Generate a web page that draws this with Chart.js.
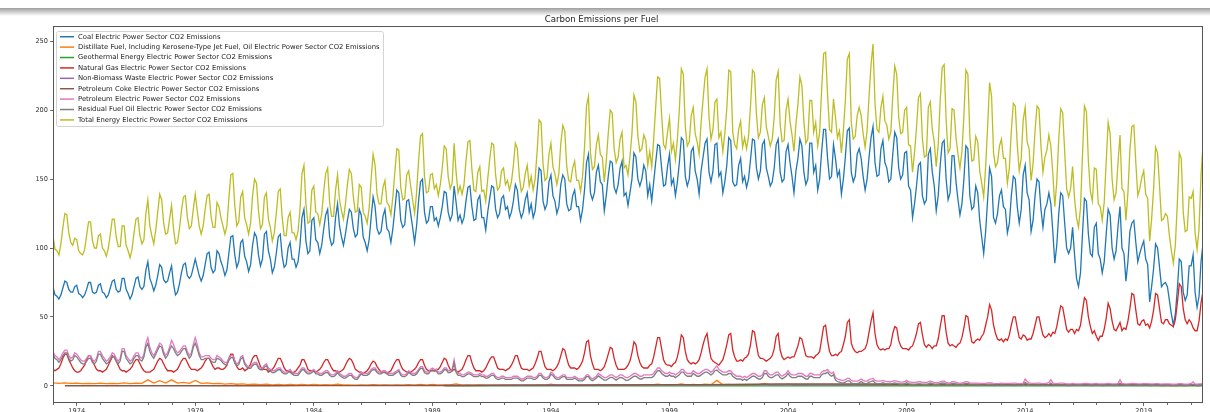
<!DOCTYPE html>
<html>
<head>
<meta charset="utf-8">
<script src="https://cdn.jsdelivr.net/npm/chart.js@4.4.0/dist/chart.umd.min.js"></script>
<style>
  html, body { margin: 0; padding: 0; background: #fff; overflow: hidden; }
  #wrap { position: relative; width: 1210px; height: 412px; }
  #shade { position: absolute; left: 0; top: 8px; width: 1210px; height: 8px;
           background: linear-gradient(#9e9e9e, rgba(255,255,255,0)); }
  canvas { display: block; }
</style>
</head>
<body>
<div id="wrap">
  <canvas id="chart" width="1210" height="412"></canvas>
  <div id="shade"></div>
</div>
<script>
// monthly series start at Jan 1973, last value is Jul 2021
const startYear = 1973;
const tickYears = [1974, 1979, 1984, 1989, 1994, 1999, 2004, 2009, 2014, 2019];
const yTicks = [0, 50, 100, 150, 200, 250];

const seriesNames = [
  'Coal Electric Power Sector CO2 Emissions',
  'Distillate Fuel, Including Kerosene-Type Jet Fuel, Oil Electric Power Sector CO2 Emissions',
  'Geothermal Energy Electric Power Sector CO2 Emissions',
  'Natural Gas Electric Power Sector CO2 Emissions',
  'Non-Biomass Waste Electric Power Sector CO2 Emissions',
  'Petroleum Coke Electric Power Sector CO2 Emissions',
  'Petroleum Electric Power Sector CO2 Emissions',
  'Residual Fuel Oil Electric Power Sector CO2 Emissions',
  'Total Energy Electric Power Sector CO2 Emissions'
];
const seriesColors = ['#1f77b4', '#ff7f0e', '#2ca02c', '#d62728', '#9467bd',
                      '#8c564b', '#e377c2', '#7f7f7f', '#bcbd22'];

const coal = [
  72, 66, 65, 63, 66, 71, 76, 75, 70, 68, 68, 72,
  73, 67, 66, 64, 66, 70, 75, 75, 68, 67, 68, 73,
  74, 68, 67, 64, 66, 71, 76, 77, 70, 68, 69, 78,
  78, 70, 67, 63, 66, 72, 78, 79, 72, 70, 72, 84,
  90, 78, 74, 69, 73, 80, 88, 86, 77, 75, 76, 82,
  87, 74, 66, 68, 74, 82, 88, 89, 80, 78, 80, 86,
  92, 86, 80, 76, 80, 88, 96, 97, 86, 82, 84, 98,
  96, 90, 86, 80, 84, 96, 108, 109, 95, 86, 90, 104,
  106, 94, 90, 83, 88, 102, 111, 108, 95, 87, 92, 110,
  112, 98, 92, 82, 86, 96, 108, 110, 94, 86, 88, 100,
  104, 92, 92, 86, 90, 102, 122, 128, 105, 96, 98, 120,
  122, 106, 104, 96, 102, 114, 124, 128, 108, 102, 104, 122,
  132, 116, 108, 102, 110, 120, 128, 126, 114, 108, 110, 128,
  124, 108, 104, 98, 106, 122, 137, 130, 114, 110, 112, 123,
  128, 114, 112, 104, 114, 128, 142, 140, 120, 115, 117, 134,
  135, 125, 115, 104, 116, 134, 148, 150, 126, 118, 120, 130,
  130, 120, 122, 116, 122, 130, 141, 140, 126, 120, 124, 145,
  133, 120, 124, 118, 122, 134, 144, 145, 130, 120, 121, 135,
  138, 122, 122, 113, 126, 136, 145, 144, 128, 122, 125, 136,
  138, 128, 130, 122, 126, 134, 146, 142, 128, 122, 126, 135,
  140, 126, 132, 122, 127, 142, 158, 156, 134, 128, 132, 148,
  153, 138, 134, 125, 130, 146, 153, 150, 132, 127, 128, 138,
  142, 130, 130, 120, 128, 142, 162, 168, 140, 135, 140, 155,
  160, 148, 146, 127, 138, 152, 163, 162, 144, 140, 146, 158,
  163, 138, 140, 131, 140, 150, 169, 166, 150, 145, 150, 160,
  156, 138, 146, 134, 148, 162, 175, 174, 158, 145, 146, 159,
  168, 146, 150, 138, 148, 162, 180, 178, 152, 145, 150, 170,
  173, 156, 150, 139, 156, 166, 176, 179, 155, 148, 156, 175,
  176, 152, 155, 140, 148, 160, 180, 178, 148, 145, 146, 160,
  165, 148, 152, 144, 150, 164, 179, 178, 158, 150, 156, 175,
  178, 158, 152, 145, 148, 158, 175, 179, 155, 148, 150, 170,
  175, 162, 152, 140, 156, 165, 179, 174, 155, 146, 150, 176,
  176, 155, 160, 142, 150, 170, 186, 186, 165, 150, 152, 175,
  165, 152, 156, 139, 150, 166, 185, 187, 155, 148, 152, 168,
  172, 165, 152, 142, 150, 166, 180, 188, 162, 152, 153, 172,
  178, 162, 158, 148, 150, 168, 184, 180, 158, 150, 153, 169,
  170, 145, 142, 122, 132, 145, 160, 162, 138, 132, 135, 168,
  172, 155, 145, 127, 138, 160, 176, 178, 150, 135, 140, 167,
  167, 148, 135, 124, 132, 150, 174, 172, 138, 128, 130, 145,
  140, 120, 108, 96, 112, 135, 158, 152, 122, 118, 125, 138,
  142, 130, 128, 111, 118, 138, 152, 150, 130, 118, 128, 153,
  160, 140, 135, 112, 120, 138, 150, 148, 128, 115, 128, 132,
  140, 132, 112, 89, 102, 125, 140, 138, 118, 100, 96, 100,
  115, 95, 78, 72, 82, 110, 136, 134, 110, 96, 94, 115,
  118, 96, 92, 82, 90, 110, 128, 124, 100, 92, 98, 116,
  130, 100, 96, 76, 90, 112, 118, 120, 104, 90, 96, 101,
  105, 92, 88, 61, 72, 85, 103, 100, 86, 72, 74, 75,
  72, 62, 52, 44, 52, 70, 92, 90, 68, 62, 66, 87,
  87, 95, 68, 57, 65, 90, 103
];

const naturalGas = [
  12, 11, 12, 13, 16, 20, 23, 23, 19, 16, 13, 11,
  10, 10, 11, 13, 15, 19, 22, 22, 18, 15, 12, 11,
  11, 10, 11, 12, 15, 18, 21, 21, 18, 15, 12, 11,
  11, 10, 11, 12, 14, 17, 19, 19, 16, 13, 11, 10,
  10, 10, 11, 12, 15, 18, 20, 19, 16, 13, 11, 11,
  11, 10, 11, 12, 15, 18, 20, 20, 17, 14, 12, 12,
  12, 11, 12, 13, 15, 18, 20, 20, 17, 14, 12, 13,
  13, 12, 12, 13, 15, 20, 23, 23, 18, 14, 12, 12,
  13, 11, 12, 13, 16, 20, 22, 22, 18, 14, 12, 12,
  12, 10, 11, 12, 14, 17, 20, 20, 17, 13, 11, 11,
  10, 9, 10, 11, 13, 15, 19, 19, 16, 12, 11, 11,
  11, 10, 11, 12, 14, 17, 19, 19, 16, 13, 11, 11,
  10, 10, 11, 12, 15, 18, 20, 19, 16, 12, 11, 10,
  10, 9, 10, 11, 13, 16, 18, 17, 14, 12, 10, 10,
  10, 9, 10, 11, 14, 17, 19, 19, 15, 12, 11, 10,
  10, 10, 11, 12, 14, 17, 19, 19, 15, 12, 11, 11,
  11, 11, 12, 12, 14, 17, 20, 19, 15, 12, 11, 12,
  11, 10, 11, 12, 15, 19, 22, 22, 17, 13, 11, 11,
  11, 10, 11, 13, 16, 19, 21, 21, 17, 13, 12, 12,
  12, 11, 12, 13, 15, 18, 22, 22, 17, 13, 12, 12,
  12, 11, 12, 13, 16, 20, 25, 25, 19, 14, 12, 12,
  12, 11, 12, 14, 17, 22, 27, 26, 20, 15, 13, 13,
  13, 12, 13, 15, 18, 24, 32, 33, 22, 16, 12, 12,
  12, 11, 12, 14, 18, 23, 28, 27, 20, 15, 12, 12,
  12, 12, 13, 15, 18, 24, 32, 30, 22, 17, 14, 13,
  13, 13, 15, 16, 21, 28, 35, 35, 27, 19, 16, 15,
  15, 14, 16, 17, 21, 28, 37, 35, 25, 19, 17, 16,
  17, 16, 17, 19, 24, 30, 35, 38, 28, 20, 18, 17,
  16, 15, 17, 19, 24, 30, 37, 38, 26, 21, 18, 18,
  19, 18, 20, 21, 23, 30, 40, 39, 30, 22, 20, 20,
  19, 18, 19, 20, 22, 27, 36, 38, 26, 21, 19, 20,
  21, 20, 21, 21, 25, 29, 35, 34, 28, 22, 21, 21,
  21, 20, 22, 23, 25, 34, 43, 44, 33, 25, 22, 22,
  23, 22, 24, 25, 30, 36, 46, 48, 31, 27, 25, 24,
  25, 25, 26, 27, 31, 39, 47, 53, 38, 30, 27, 26,
  27, 26, 27, 27, 30, 38, 43, 42, 33, 29, 27, 27,
  27, 26, 28, 29, 33, 38, 45, 46, 37, 30, 28, 30,
  29, 27, 29, 29, 34, 43, 51, 51, 39, 31, 29, 30,
  29, 28, 30, 31, 35, 42, 51, 50, 40, 32, 31, 33,
  34, 33, 36, 38, 44, 50, 59, 55, 44, 38, 34, 33,
  34, 32, 34, 33, 37, 44, 50, 50, 42, 35, 34, 37,
  36, 33, 34, 34, 38, 44, 50, 50, 43, 37, 35, 36,
  38, 36, 39, 38, 43, 51, 58, 57, 49, 41, 39, 41,
  41, 38, 41, 40, 44, 54, 64, 62, 50, 43, 38, 40,
  36, 33, 36, 36, 41, 49, 60, 56, 47, 41, 40, 43,
  46, 40, 42, 41, 47, 56, 67, 66, 55, 45, 44, 47,
  48, 44, 45, 42, 47, 55, 67, 66, 56, 46, 45, 48,
  48, 45, 44, 43, 48, 60, 74, 72, 56, 48, 45, 48,
  46, 42, 40, 40, 47, 60, 69
];

const petroleum = [
  25, 22, 21, 19, 21, 24, 26, 26, 22, 20, 21, 24,
  23, 21, 19, 18, 18, 20, 22, 22, 19, 18, 20, 25,
  25, 22, 20, 18, 19, 21, 24, 23, 20, 18, 20, 27,
  27, 22, 20, 18, 19, 22, 24, 24, 21, 20, 23, 31,
  35, 28, 24, 22, 25, 28, 31, 30, 25, 22, 24, 28,
  33, 30, 26, 24, 25, 27, 29, 29, 25, 22, 24, 30,
  35, 30, 24, 21, 21, 22, 22, 22, 20, 19, 19, 22,
  21, 20, 18, 17, 17, 20, 22, 22, 18, 16, 17, 21,
  22, 17, 15, 14, 14, 16, 17, 17, 14, 13, 13, 15,
  16, 13, 12, 11, 11, 12, 13, 13, 11, 10, 10, 11,
  12, 10, 9, 9, 9, 11, 13, 13, 11, 10, 10, 11,
  12, 10, 10, 9, 9, 10, 11, 11, 9, 8, 8, 9,
  11, 9, 8, 7, 7, 8, 9, 9, 7, 6, 6, 8,
  10, 9, 9, 9, 10, 12, 13, 13, 11, 10, 10, 11,
  11, 10, 9, 9, 9, 10, 11, 12, 9, 8, 8, 9,
  11, 10, 9, 9, 10, 12, 14, 14, 11, 10, 10, 12,
  13, 12, 12, 10, 10, 11, 13, 13, 11, 11, 12, 19,
  11, 9, 9, 8, 8, 9, 10, 10, 9, 8, 8, 8,
  9, 8, 8, 7, 7, 8, 9, 9, 7, 6, 6, 7,
  7, 6, 6, 6, 6, 7, 7, 7, 6, 5, 5, 6,
  7, 7, 7, 6, 6, 7, 9, 9, 7, 6, 6, 7,
  10, 9, 7, 6, 6, 7, 8, 8, 6, 6, 6, 6,
  7, 6, 5, 5, 5, 6, 8, 8, 6, 5, 6, 7,
  9, 8, 7, 6, 6, 7, 8, 8, 7, 6, 7, 8,
  8, 7, 6, 6, 7, 8, 9, 9, 8, 7, 7, 8,
  8, 8, 8, 8, 9, 11, 13, 13, 11, 10, 9, 9,
  10, 9, 9, 8, 9, 10, 12, 12, 10, 9, 9, 9,
  11, 10, 9, 9, 10, 11, 12, 12, 11, 10, 11, 13,
  14.5, 12, 11, 10, 10, 10, 11, 11, 9, 8, 7, 7,
  7, 6, 7, 6, 7, 8, 9, 9, 8, 7, 7, 8,
  11, 11, 9, 8, 8, 9, 10, 10, 8, 7, 8, 9,
  11, 9, 8, 8, 8, 9, 9, 9, 8, 7, 7, 9,
  9, 8, 8, 8, 8, 10, 11, 11, 12, 10, 9, 10,
  6, 5, 4.5, 4, 4, 4.5, 5.5, 5.5, 4, 3.5, 3.5, 3.5,
  4, 5, 4, 3.5, 3.5, 4.5, 5, 5.5, 4, 3.5, 3.5, 3.5,
  4, 3.5, 3.2, 3, 3, 3.5, 3.8, 3.5, 3, 2.8, 2.8, 3,
  4, 3, 2.8, 2.5, 2.5, 2.8, 3, 3, 2.6, 2.5, 2.5, 3,
  3.5, 3, 2.5, 2.3, 2.4, 3, 3.5, 3.4, 2.6, 2.2, 2.2, 3,
  3, 2.5, 2.2, 2, 2.1, 2.6, 3, 2.9, 2.2, 2, 2, 2,
  2, 1.9, 1.8, 1.8, 1.9, 2.1, 2.2, 2.2, 1.9, 1.7, 1.7, 1.8,
  2, 1.9, 1.8, 1.8, 1.8, 1.9, 2, 2, 1.8, 1.7, 1.8, 2,
  5, 3.2, 2.2, 1.8, 1.8, 1.9, 2, 2, 1.8, 1.6, 1.8, 1.8,
  2.5, 4.5, 2.2, 1.6, 1.7, 1.9, 2, 2, 1.8, 1.5, 1.5, 1.5,
  1.8, 1.6, 1.5, 1.5, 1.5, 1.7, 1.8, 1.8, 1.6, 1.4, 1.4, 1.6,
  1.8, 1.5, 1.5, 1.4, 1.4, 1.6, 1.8, 1.7, 1.5, 1.4, 1.5, 1.8,
  4.5, 1.8, 1.6, 1.5, 1.5, 1.7, 1.8, 1.8, 1.6, 1.4, 1.5, 1.5,
  1.8, 1.7, 1.6, 1.4, 1.4, 1.5, 1.6, 1.6, 1.5, 1.3, 1.4, 1.5,
  1.5, 1.4, 1.3, 1.2, 1.3, 1.4, 1.6, 1.6, 1.4, 1.3, 1.3, 1.5,
  1.8, 3, 1.5, 1.3, 1.4, 1.5, 1.6
];

const residualFuelOil = [
  23, 20, 19, 17, 19, 22, 24, 24, 20, 18, 19, 22,
  21, 19, 17, 16, 16, 18, 20, 20, 17, 16, 18, 23,
  23, 20, 18, 16, 17, 19, 22, 21, 18, 16, 18, 25,
  25, 20, 18, 16, 17, 20, 22, 22, 19, 18, 21, 28,
  31, 25, 22, 20, 23, 26, 29, 28, 23, 20, 22, 26,
  29, 27, 24, 22, 23, 25, 27, 27, 23, 20, 22, 28,
  31, 27, 22, 19, 19, 20, 20, 20, 18, 17, 17, 20,
  19.5, 18.5, 16.5, 15.5, 15.5, 18.5, 20.5, 20.5, 16.5, 14.5, 15.5, 19.5,
  20.7, 15.7, 13.7, 12.7, 12.7, 14.7, 15.7, 15.7, 12.7, 11.7, 11.7, 13.7,
  14.7, 11.7, 10.7, 9.7, 9.7, 10.7, 11.7, 11.7, 9.7, 8.7, 8.7, 9.7,
  10.7, 8.7, 7.7, 7.7, 7.7, 9.7, 11.7, 11.7, 9.7, 8.7, 8.7, 9.7,
  10.7, 8.7, 8.7, 7.7, 7.7, 8.7, 9.7, 9.7, 7.7, 6.7, 6.7, 7.7,
  9.7, 7.7, 6.7, 5.7, 5.7, 6.7, 7.7, 7.7, 5.7, 4.7, 4.7, 6.7,
  8.7, 7.7, 7.7, 7.7, 8.7, 10.7, 11.7, 11.7, 9.7, 8.7, 8.7, 9.7,
  9.7, 8.7, 7.7, 7.7, 7.7, 8.7, 9.7, 10.7, 7.7, 6.7, 6.7, 7.7,
  9.7, 8.7, 7.7, 7.7, 8.7, 10.7, 12.7, 12.7, 9.7, 8.7, 8.7, 10.7,
  11.7, 10.7, 10.7, 8.7, 8.7, 9.7, 11.7, 11.7, 9.7, 9.7, 10.7, 16.7,
  9.7, 7.7, 7.7, 6.7, 6.7, 7.7, 8.7, 8.7, 7.7, 6.7, 6.7, 6.7,
  7.7, 6.7, 6.7, 5.7, 5.7, 6.7, 7.7, 7.7, 5.7, 4.7, 4.7, 5.7,
  5.7, 4.7, 4.7, 4.7, 4.7, 5.7, 5.7, 5.7, 4.7, 3.7, 3.7, 4.7,
  5.7, 5.7, 5.7, 4.7, 4.7, 5.7, 7.7, 7.7, 5.7, 4.7, 4.7, 5.7,
  8.5, 7.5, 5.7, 4.7, 4.7, 5.7, 6.7, 6.7, 4.7, 4.7, 4.7, 4.7,
  5.7, 4.7, 3.7, 3.7, 3.7, 4.7, 6.7, 6.7, 4.7, 3.7, 4.7, 5.7,
  7.2, 6.2, 5.2, 4.2, 4.2, 5.2, 6.2, 6.2, 5.2, 4.2, 5.2, 6.2,
  6, 5, 4, 4, 5, 6, 7, 7, 6, 5, 5, 6,
  6, 6, 6, 6, 7, 9, 11, 11, 9, 8, 7, 7,
  8, 7, 7, 6, 7, 8, 10, 10, 8, 7, 7, 7,
  9, 8, 7, 7, 8, 9, 10, 10, 9, 8, 9, 11,
  11.5, 10, 9, 8, 8, 8, 9, 9, 7, 6, 5, 5,
  5, 4, 5, 4, 5, 6, 7, 7, 6, 5, 5, 6,
  9, 9, 7, 6, 6, 7, 8, 8, 6, 5, 6, 7,
  9, 7, 6, 6, 6, 7, 7, 7, 6, 5, 5, 7,
  7, 6, 6, 6, 6, 8, 9, 9, 10, 8, 7, 8,
  4.2, 3.2, 2.7, 2.2, 2.2, 2.7, 3.7, 3.7, 2.2, 1.7, 1.7, 1.7,
  2.2, 3.2, 2.2, 1.7, 1.7, 2.7, 3.2, 3.7, 2.2, 1.7, 1.7, 1.7,
  2.4, 1.9, 1.6, 1.4, 1.4, 1.9, 2.2, 1.9, 1.4, 1.2, 1.2, 1.4,
  2.5, 1.5, 1.3, 1, 1, 1.3, 1.5, 1.5, 1.1, 1, 1, 1.5,
  2.1, 1.6, 1.1, 0.9, 1, 1.6, 2.1, 2, 1.2, 0.8, 0.8, 1.6,
  1.7, 1.2, 0.9, 0.7, 0.8, 1.3, 1.7, 1.6, 0.9, 0.7, 0.7, 0.7,
  0.8, 0.7, 0.6, 0.6, 0.7, 0.9, 1, 1, 0.7, 0.5, 0.5, 0.6,
  0.8, 0.7, 0.6, 0.6, 0.6, 0.7, 0.8, 0.8, 0.6, 0.5, 0.6, 0.8,
  2.5, 1.5, 0.9, 0.6, 0.6, 0.7, 0.8, 0.8, 0.6, 0.4, 0.6, 0.6,
  1, 2, 0.9, 0.4, 0.5, 0.7, 0.8, 0.8, 0.6, 0.3, 0.3, 0.3,
  0.7, 0.5, 0.4, 0.4, 0.4, 0.6, 0.7, 0.7, 0.5, 0.3, 0.3, 0.5,
  0.7, 0.4, 0.4, 0.3, 0.3, 0.5, 0.7, 0.6, 0.4, 0.3, 0.4, 0.7,
  2, 0.7, 0.5, 0.4, 0.4, 0.6, 0.7, 0.7, 0.5, 0.3, 0.4, 0.4,
  0.7, 0.6, 0.5, 0.3, 0.3, 0.4, 0.5, 0.5, 0.4, 0.2, 0.3, 0.4,
  0.4, 0.3, 0.2, 0.2, 0.2, 0.3, 0.5, 0.5, 0.3, 0.2, 0.2, 0.4,
  0.7, 1.3, 0.4, 0.2, 0.3, 0.4, 0.5
];

const totalEnergy = [
  109, 99, 98, 95, 103, 115, 125, 124, 111, 104, 102, 107,
  106, 98, 96, 95, 99, 109, 119, 119, 105, 100, 100, 109,
  110, 100, 98, 94, 100, 110, 121, 121, 108, 101, 101, 116,
  116, 102, 98, 93, 99, 111, 121, 122, 109, 103, 106, 125,
  135, 116, 109, 103, 113, 126, 139, 135, 118, 110, 111, 121,
  131, 114, 103, 104, 114, 127, 137, 138, 122, 114, 116, 128,
  139, 127, 116, 110, 116, 128, 138, 139, 123, 115, 115, 133,
  130, 122, 116, 110, 116, 136, 153, 154, 131, 116, 119, 137,
  141, 122, 117, 110, 118, 138, 150, 147, 127, 114, 117, 137,
  140, 121, 115, 105, 111, 125, 141, 143, 122, 109, 109, 122,
  126, 111, 111, 106, 112, 128, 154, 160, 132, 118, 119, 142,
  145, 126, 125, 117, 125, 141, 154, 158, 133, 123, 123, 142,
  153, 135, 127, 121, 132, 146, 157, 154, 137, 126, 127, 146,
  144, 126, 123, 118, 129, 150, 168, 160, 139, 132, 132, 144,
  149, 133, 131, 124, 137, 155, 172, 171, 144, 135, 136, 153,
  156, 145, 135, 125, 140, 163, 181, 183, 152, 140, 141, 153,
  154, 143, 146, 138, 146, 158, 174, 172, 152, 143, 147, 176,
  155, 140, 145, 139, 146, 163, 177, 178, 157, 142, 141, 155,
  159, 141, 142, 134, 150, 164, 176, 175, 153, 142, 144, 156,
  158, 146, 149, 142, 148, 160, 176, 172, 152, 141, 144, 154,
  160, 145, 152, 142, 150, 170, 193, 191, 161, 149, 151, 168,
  176, 159, 154, 146, 154, 176, 189, 185, 159, 149, 148, 158,
  163, 149, 149, 141, 152, 173, 203, 210, 169, 157, 159, 175,
  182, 168, 166, 148, 163, 183, 200, 198, 172, 162, 166, 179,
  184, 158, 160, 153, 166, 183, 211, 206, 181, 170, 172, 182,
  178, 160, 170, 159, 179, 202, 224, 223, 197, 175, 172, 184,
  194, 170, 176, 164, 179, 201, 230, 226, 188, 174, 177, 196,
  202, 183, 177, 168, 191, 208, 224, 230, 195, 179, 186, 206,
  208, 180, 184, 170, 183, 201, 229, 228, 184, 175, 172, 186,
  192, 173, 180, 172, 181, 203, 229, 227, 197, 180, 184, 204,
  209, 188, 181, 174, 179, 195, 222, 228, 190, 177, 178, 200,
  208, 192, 182, 170, 190, 204, 224, 218, 192, 176, 179, 207,
  207, 184, 191, 174, 184, 215, 241, 242, 211, 186, 184, 208,
  195, 180, 185, 169, 185, 207, 237, 241, 191, 179, 181, 196,
  202, 196, 183, 173, 185, 210, 233, 248, 205, 186, 184, 202,
  210, 192, 189, 179, 184, 210, 232, 226, 195, 183, 184, 200,
  202, 175, 174, 155, 169, 187, 209, 212, 179, 166, 167, 202,
  206, 186, 177, 159, 175, 207, 231, 233, 193, 169, 172, 201,
  200, 180, 168, 158, 170, 196, 229, 226, 181, 163, 164, 181,
  177, 156, 147, 137, 159, 188, 220, 210, 169, 159, 162, 174,
  179, 165, 165, 147, 158, 185, 205, 203, 175, 156, 165, 193,
  202, 177, 172, 149, 161, 185, 203, 201, 174, 155, 166, 171,
  182, 174, 154, 130, 148, 179, 201, 198, 170, 143, 137, 143,
  159, 136, 122, 115, 129, 167, 203, 199, 163, 141, 134, 158,
  157, 132, 130, 120, 133, 162, 191, 183, 150, 135, 140, 162,
  182, 143, 141, 120, 140, 171, 188, 189, 162, 138, 143, 151,
  156, 139, 136, 105, 121, 143, 173, 169, 145, 120, 121, 125,
  123, 109, 98, 89, 102, 132, 169, 165, 126, 112, 113, 137,
  136, 141, 111, 99, 114, 153, 175
];

// quarterly (Jan, Apr, Jul, Oct) from 1973
const distillate = [
  2.2, 1.8, 2.2, 1.8,  2.0, 1.6, 1.8, 1.6,  2.0, 1.6, 1.9, 1.6,  2.2, 1.6, 2.0, 1.8,
  4.4, 2.0, 3.8, 2.0,  4.4, 2.0, 2.6, 1.8,  4.0, 1.8, 2.2, 1.6,  1.8, 1.3, 1.6, 1.2,
  1.5, 1.0, 1.2, 0.9,  1.2, 0.8, 1.0, 0.8,  1.0, 0.8, 1.1, 0.8,  1.1, 0.8, 0.9, 0.7,
  1.2, 0.7, 0.8, 0.6,  0.8, 0.6, 0.9, 0.6,  0.8, 0.6, 0.8, 0.6,  0.9, 0.6, 1.0, 0.6,
  1.0, 0.6, 0.8, 0.7,  1.5, 0.5, 0.7, 0.5,  0.7, 0.5, 0.6, 0.5,  0.6, 0.5, 0.6, 0.4,
  0.6, 0.5, 0.7, 0.5,  1.2, 0.5, 0.6, 0.5,  0.6, 0.5, 0.7, 0.5,  1.0, 0.6, 0.7, 0.6,
  0.8, 0.6, 0.8, 0.6,  0.7, 0.7, 1.2, 0.8,  0.9, 0.7, 1.5, 0.8,  1.0, 0.8, 1.2, 0.9,
  4.0, 0.9, 1.0, 0.7,  0.7, 0.6, 0.9, 0.7,  1.8, 0.7, 0.9, 0.6,  1.2, 0.6, 0.7, 0.6,
  0.9, 0.6, 1.0, 0.8,  0.6, 0.5, 0.7, 0.5,  0.6, 0.5, 0.7, 0.5,  0.6, 0.5, 0.5, 0.4,
  0.7, 0.4, 0.5, 0.4,  0.6, 0.4, 0.5, 0.4,  0.6, 0.4, 0.5, 0.4,  0.5, 0.4, 0.5, 0.4,
  0.5, 0.4, 0.5, 0.4,  1.8, 0.4, 0.5, 0.4,  0.8, 0.4, 0.5, 0.4,  0.5, 0.4, 0.4, 0.4,
  0.5, 0.4, 0.4, 0.4,  1.6, 0.4, 0.4, 0.4,  0.5, 0.4, 0.4, 0.3,  0.4, 0.3, 0.4, 0.3,
  0.5, 0.3, 0.4
];

// yearly averages
const petroleumCoke = [
  0.1, 0.1, 0.1, 0.1, 0.1, 0.1, 0.1, 0.1, 0.1, 0.1, 0.2, 0.2, 0.2, 0.3, 0.3, 0.3,
  0.3, 0.3, 0.4, 0.5, 0.6, 0.6, 0.6, 0.7, 0.8, 0.9, 0.9, 0.9, 1.0, 1.2, 1.5, 1.5,
  1.5, 1.5, 1.4, 1.2, 1.1, 1.3, 1.2, 1.0, 1.0, 1.0, 0.8, 0.8, 0.8, 0.7, 0.7, 0.6,
  0.6
];
const wasteStart = 1989;
const nonBiomassWaste = [
  0.4, 0.45, 0.5, 0.55, 0.6, 0.65, 0.7, 0.75, 0.8, 0.8, 0.85, 0.85, 0.9, 0.95, 0.95,
  0.95, 0.95, 0.95, 0.95, 0.95, 0.95, 0.95, 0.9, 0.9, 0.9, 0.9, 0.9, 0.85, 0.85,
  0.85, 0.85, 0.8, 0.8
];
const geothermal = [
  0.03, 0.03, 0.03, 0.03, 0.03, 0.03, 0.03, 0.03, 0.03, 0.03, 0.03, 0.03, 0.03,
  0.03, 0.03, 0.04, 0.04, 0.04, 0.04, 0.04, 0.04, 0.04, 0.04, 0.04, 0.04, 0.04,
  0.04, 0.04, 0.04, 0.04, 0.04, 0.04, 0.04
];

const monthly = vals => vals.map((v, i) => ({ x: startYear + i / 12, y: v }));
const quarterly = vals => vals.map((v, i) => ({ x: startYear + i / 4, y: v }));
const yearly = (vals, first) => vals.map((v, i) => ({ x: first + i + 0.5, y: v }));

const seriesData = [
  monthly(coal),
  quarterly(distillate),
  yearly(geothermal, wasteStart),
  monthly(naturalGas),
  yearly(nonBiomassWaste, wasteStart),
  yearly(petroleumCoke, startYear),
  monthly(petroleum),
  monthly(residualFuelOil),
  monthly(totalEnergy)
];

const FONT = 'DejaVu Sans';

// spines, minor year ticks and the boxed legend in the upper left
const axesDecor = {
  id: 'axesDecor',
  afterDraw(chart) {
    const { ctx, chartArea: a, scales } = chart;
    ctx.save();
    ctx.strokeStyle = '#444';
    ctx.lineWidth = 0.8;
    ctx.beginPath();
    for (let yr = Math.ceil(scales.x.min); yr <= scales.x.max; yr++) {
      if (tickYears.includes(yr)) continue;
      const px = Math.round(scales.x.getPixelForValue(yr)) + 0.5;
      ctx.moveTo(px, a.bottom);
      ctx.lineTo(px, a.bottom + 2);
    }
    ctx.stroke();

    ctx.strokeStyle = '#555';
    ctx.lineWidth = 1;
    ctx.strokeRect(a.left + 0.5, a.top + 0.5, a.right - a.left - 1, a.bottom - a.top - 1);

    const lx = a.left + 3, ly = a.top + 5, lw = 327, lh = 95;
    ctx.fillStyle = 'rgba(255,255,255,0.8)';
    ctx.strokeStyle = '#d4d4d4';
    ctx.beginPath();
    ctx.roundRect(lx + 0.5, ly + 0.5, lw, lh, 2);
    ctx.fill();
    ctx.stroke();

    ctx.font = '6.85px "' + FONT + '"';
    ctx.textBaseline = 'middle';
    chart.data.datasets.forEach((ds, i) => {
      const y = ly + 5.7 + i * 10.4;
      ctx.strokeStyle = ds.borderColor;
      ctx.lineWidth = 1.5;
      ctx.beginPath();
      ctx.moveTo(lx + 4, y);
      ctx.lineTo(lx + 18, y);
      ctx.stroke();
      ctx.fillStyle = '#222';
      ctx.fillText(ds.label, lx + 22, y);
    });
    ctx.restore();
  }
};

new Chart(document.getElementById('chart'), {
  type: 'line',
  data: {
    datasets: seriesNames.map((name, i) => ({
      label: name,
      data: seriesData[i],
      borderColor: seriesColors[i],
      backgroundColor: seriesColors[i],
      borderWidth: 1.3,
      pointRadius: 0,
      tension: 0,
      fill: false,
      order: seriesNames.length - i
    }))
  },
  options: {
    responsive: false,
    animation: false,
    events: [],
    layout: { padding: { left: 0, right: 7, top: 0, bottom: 0 } },
    plugins: {
      legend: { display: false },
      tooltip: { enabled: false },
      title: {
        display: true,
        text: 'Carbon Emissions per Fuel',
        color: '#222',
        font: { family: FONT, size: 8.6, weight: 'normal' },
        padding: { top: 15, bottom: 0.7 }
      }
    },
    scales: {
      x: {
        type: 'linear',
        min: startYear,
        max: startYear + (coal.length - 1) / 12,
        afterBuildTicks: s => { s.ticks = tickYears.map(v => ({ value: v })); },
        afterFit: s => { s.height = 9; },
        ticks: {
          autoSkip: false, maxRotation: 0, padding: 1,
          color: '#333', font: { family: FONT, size: 6.6 },
          callback: v => String(v)
        },
        grid: { drawOnChartArea: false, drawTicks: true, tickLength: 3, tickColor: '#444', tickWidth: 0.8 },
        border: { display: false }
      },
      y: {
        min: -12.4,
        max: 261,
        afterBuildTicks: s => { s.ticks = yTicks.map(v => ({ value: v })); },
        afterFit: s => { s.width = 53; },
        ticks: { padding: 2, color: '#333', font: { family: FONT, size: 6.6 } },
        grid: { drawOnChartArea: false, drawTicks: true, tickLength: 3, tickColor: '#444', tickWidth: 0.8 },
        border: { display: false }
      }
    }
  },
  plugins: [axesDecor]
});
</script>
</body>
</html>
